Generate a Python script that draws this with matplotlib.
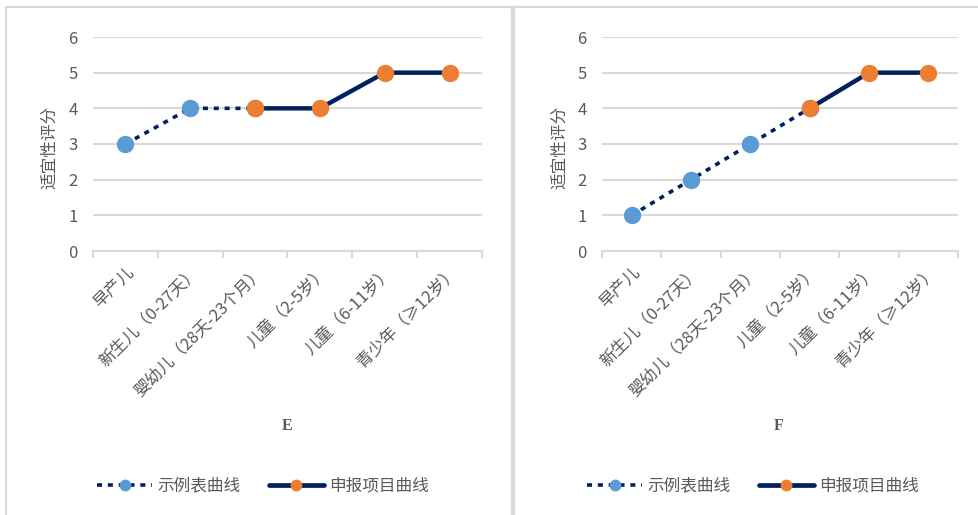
import matplotlib
matplotlib.use('Agg')
import matplotlib.pyplot as plt
import numpy as np
from matplotlib.patches import Rectangle
from matplotlib.lines import Line2D

plt.rcParams['font.family'] = ['Noto Sans CJK SC', 'DejaVu Sans']

categories = ['早产儿', '新生儿（0-27天）', '婴幼儿（28天-23个月）',
              '儿童（2-5岁）', '儿童（6-11岁）', '青少年（≥12岁）']

# panel E
sample_E = [3, 4, 4, np.nan, np.nan, np.nan]
declared_E = [np.nan, np.nan, 4, 4, 5, 5]
# panel F
sample_F = [1, 2, 3, 4, np.nan, np.nan]
declared_F = [np.nan, np.nan, np.nan, 4, 5, 5]

panel_titles = ['E', 'F']
legend_labels = ['示例表曲线', '申报项目曲线']
y_label = '适宜性评分'

NAVY = '#002060'
BLUE = '#5B9BD5'
ORANGE = '#ED7D31'
GRID = '#D9D9D9'
TEXT = '#595959'

W, H = 979, 515
fig = plt.figure(figsize=(W / 100, H / 100), dpi=100)


def fx(px):
    return px / W


def fy(py):
    return 1 - py / H


# panel frames
for x0, x1 in [(6, 512), (514, 985)]:
    fig.patches.append(Rectangle((fx(x0), fy(530)), fx(x1 - x0), fy(7) - fy(530),
                                 transform=fig.transFigure, fill=False,
                                 edgecolor=GRID, linewidth=1.6, zorder=0))

panels = [
    dict(left=93, right=482, sample=sample_E, declared=declared_E, title_x=287,
         ylab_x=50, legend_x=263),
    dict(left=602, right=958, sample=sample_F, declared=declared_F, title_x=779,
         ylab_x=560, legend_x=753),
]

for p, title in zip(panels, panel_titles):
    ax = fig.add_axes([fx(p['left']), fy(251), fx(p['right'] - p['left']), fy(37) - fy(251)])
    x = np.arange(len(categories))
    ax.plot(x, p['sample'], color=NAVY, lw=2.6, linestyle=(0, (1.4, 1.6)),
            marker='o', ms=11.5, mfc=BLUE, mec=BLUE, zorder=3)
    ax.plot(x, p['declared'], color=NAVY, lw=3.2, solid_capstyle='round',
            marker='o', ms=11.5, mfc=ORANGE, mec=ORANGE, zorder=4)

    ax.set_xlim(-0.5, len(categories) - 0.5)
    ax.set_ylim(0, 6)
    ax.set_yticks(range(7))
    ax.grid(axis='y', color=GRID, lw=1.5)
    ax.set_axisbelow(True)
    for s in ['top', 'right', 'left']:
        ax.spines[s].set_visible(False)
    ax.spines['bottom'].set_color(GRID)
    ax.spines['bottom'].set_linewidth(1.5)
    ax.tick_params(axis='y', length=0, pad=11, labelsize=12, labelcolor=TEXT)

    ax.set_xticks(x)
    ax.set_xticklabels(categories, rotation=45, ha='right', rotation_mode='anchor',
                       fontsize=12, color=TEXT)
    ax.tick_params(axis='x', which='major', length=0, pad=9)
    ax.set_xticks(np.arange(-0.5, len(categories)), minor=True)
    ax.tick_params(axis='x', which='minor', length=5, width=1.5, color=GRID)

    fig.text(fx(p['ylab_x']), fy(147), y_label, rotation=90, ha='center', va='center',
             fontsize=12, color=TEXT)
    fig.text(fx(p['title_x']), fy(426), title, ha='center', va='center',
             fontsize=11.5, fontweight='bold', color=TEXT, family='Liberation Serif')

    handles = [
        Line2D([], [], color=NAVY, lw=2.6, linestyle=(0, (1.4, 1.6)), marker='o',
               ms=7.5, mfc=BLUE, mec=BLUE),
        Line2D([], [], color=NAVY, lw=3.4, solid_capstyle='round', marker='o',
               ms=7.5, mfc=ORANGE, mec=ORANGE),
    ]
    fig.legend(handles, legend_labels, loc='center', ncol=2, frameon=False,
               bbox_to_anchor=(fx(p['legend_x']), fy(486)), fontsize=12,
               labelcolor=TEXT, handlelength=3.3, handletextpad=0.3,
               columnspacing=1.7)

fig.savefig('out.png', dpi=100, facecolor='white')
